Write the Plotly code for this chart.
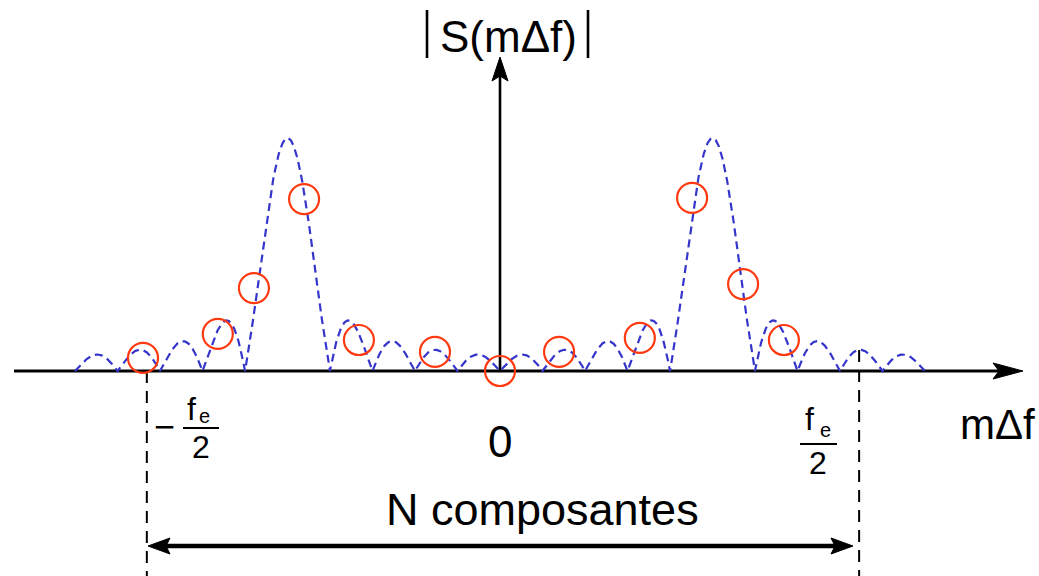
import numpy as np
import plotly.graph_objects as go

# ---------------- data ----------------
# frequency axis in units of the lobe zero spacing, amplitude normalised to the main peak
LOBE_CENTERS = [-5.0, 5.0]           # centres of the two main lobes
CURVE_START, CURVE_END = -10.0, 10.0  # extent of the dashed spectrum
PEAK = 1.0
SAMPLE_U = [-8.40, -6.64, -5.79, -4.61, -3.32, -1.53, 0.0, 1.39, 3.29, 4.52, 5.72, 6.68]
SAMPLE_V = [0.056, 0.159, 0.356, 0.738, 0.133, 0.082, 0.0, 0.082, 0.142, 0.743, 0.373, 0.133]
FE_MARKS = [-8.31, 8.45]             # -fe/2 and fe/2
TOP_OF_RIGHT_MARK = 0.09

# ---------------- geometry helpers ----------------
W, H = 1039, 576
X0, SX = 500.0, 42.5   # px of origin, px per unit
Y0, SY = 371.0, 233.0


def ux(px):
    return (px - X0) / SX


def vy(py):
    return (Y0 - py) / SY


# dashed |sinc| spectrum
u = np.linspace(CURVE_START, CURVE_END, 2401)
v = np.where(u < 0, PEAK * np.abs(np.sinc(u - LOBE_CENTERS[0])),
             PEAK * np.abs(np.sinc(u - LOBE_CENTERS[1])))

fig = go.Figure()
fig.add_trace(go.Scatter(x=u, y=v, mode="lines",
                         line=dict(color="#3535CC", width=2.2, dash="8px,5px"),
                         hoverinfo="skip", showlegend=False))
fig.add_trace(go.Scatter(x=SAMPLE_U, y=SAMPLE_V, mode="markers",
                         marker=dict(symbol="circle-open", size=30,
                                     color="#FF3A10", line=dict(width=2.2, color="#FF3A10")),
                         showlegend=False))

shapes = []


def line(x0, y0, x1, y1, w, dash="solid", color="black"):
    shapes.append(dict(type="line", xref="x", yref="y", x0=x0, y0=y0, x1=x1, y1=y1,
                       line=dict(color=color, width=w, dash=dash), layer="below"))


def head(tx, ty, direction, L, Wd, notch):
    # tx, ty in px; build path in data units
    if direction == "right":
        pts = [(tx, ty), (tx - L, ty - Wd / 2), (tx - L + notch, ty), (tx - L, ty + Wd / 2)]
    elif direction == "left":
        pts = [(tx, ty), (tx + L, ty - Wd / 2), (tx + L - notch, ty), (tx + L, ty + Wd / 2)]
    else:  # up
        pts = [(tx, ty), (tx - Wd / 2, ty + L), (tx, ty + L - notch), (tx + Wd / 2, ty + L)]
    path = "M " + " L ".join(f"{ux(px):.5f},{vy(py):.5f}" for px, py in pts) + " Z"
    shapes.append(dict(type="path", xref="x", yref="y", path=path,
                       fillcolor="black", line=dict(color="black", width=1)))


# horizontal axis
line(ux(14), 0, ux(1005), 0, 3)
head(1023, Y0, "right", 30, 16, 6)
# vertical axis
line(0, 0, 0, vy(72), 2.6)
head(500, 57, "up", 24, 16, 5)
# fe/2 dashed markers
line(FE_MARKS[0], 0, FE_MARKS[0], vy(580), 2, dash="12px,8px")
line(FE_MARKS[1], TOP_OF_RIGHT_MARK, FE_MARKS[1], vy(580), 2, dash="12px,8px")
# N composantes double arrow
yb = vy(546)
line(ux(160), yb, ux(841), yb, 4.5)
head(148, 546, "left", 22, 16, 4)
head(853, 546, "right", 22, 16, 4)
# |  | around S(mΔf)
line(ux(427), vy(10), ux(427), vy(58), 2.6)
line(ux(588), vy(10), ux(588), vy(58), 2.6)
# fraction bars
line(ux(183), vy(428), ux(219), vy(428), 2)
line(ux(800), vy(444), ux(837), vy(444), 2)

FONT = "Liberation Sans, Arial, Helvetica, sans-serif"
ann = []


def text(s, px, py, size, xanchor="center", yanchor="middle"):
    ann.append(dict(text=s, x=ux(px), y=vy(py), xref="x", yref="y", showarrow=False,
                    xanchor=xanchor, yanchor=yanchor, align="center", borderpad=0,
                    font=dict(family=FONT, size=size, color="black")))


text("S(m\u0394f)", 508, 36, 44)
text("m\u0394f", 997, 424, 42)
text("0", 500, 441, 44)
text("N composantes", 542, 509, 45)
# -fe/2
text("\u2212", 164, 426, 36)
text("f", 191, 409, 32)
text("e", 204, 416, 20)
text("2", 201, 447, 32)
# fe/2
text("f", 809, 419, 32)
text("e", 825, 430, 20)
text("2", 818, 463, 32)

fig.update_layout(
    width=W, height=H, margin=dict(l=0, r=0, t=0, b=0),
    paper_bgcolor="white", plot_bgcolor="white",
    xaxis=dict(range=[ux(0), ux(W)], visible=False, fixedrange=True),
    yaxis=dict(range=[vy(H), vy(0)], visible=False, fixedrange=True),
    shapes=shapes, annotations=ann, showlegend=False,
)
fig.write_html("out.html", config={"displayModeBar": False},
               post_script="document.body.style.margin='0px';document.body.style.overflow='hidden';")
